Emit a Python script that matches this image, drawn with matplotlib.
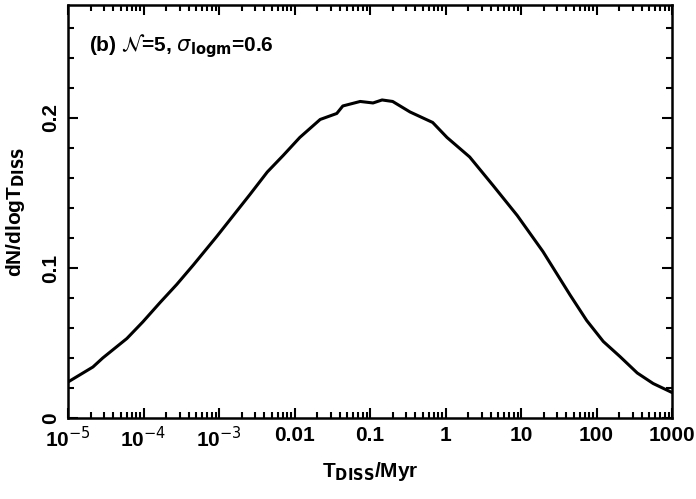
import matplotlib
matplotlib.use("Agg")
import matplotlib.pyplot as plt
import numpy as np

# Data (log10 of T_DISS/Myr, dN/dlogT_DISS)
log_t_diss = [-5.00, -4.67, -4.54, -4.22, -4.01, -3.78, -3.56, -3.34, -3.03, -2.81,
              -2.59, -2.36, -2.15, -1.93, -1.66, -1.44, -1.36, -1.13, -0.96, -0.84,
              -0.70, -0.47, -0.17, 0.02, 0.32, 0.63, 0.95, 1.29, 1.65, 1.87,
              2.09, 2.31, 2.54, 2.75, 3.00]
dn_dlogt = [0.024, 0.034, 0.040, 0.053, 0.064, 0.077, 0.089, 0.102, 0.121, 0.135,
            0.149, 0.164, 0.175, 0.187, 0.199, 0.203, 0.208, 0.211, 0.210, 0.212,
            0.211, 0.204, 0.197, 0.187, 0.174, 0.155, 0.135, 0.111, 0.082, 0.065,
            0.051, 0.041, 0.030, 0.023, 0.017]

x_tick_values = [1e-5, 1e-4, 1e-3, 0.01, 0.1, 1, 10, 100, 1000]
x_tick_labels = [r"10$^{-5}$", r"10$^{-4}$", r"10$^{-3}$",
                 "0.01", "0.1", "1", "10", "100", "1000"]
y_tick_values = [0, 0.1, 0.2]
y_tick_labels = ["0", "0.1", "0.2"]

plt.rcParams['font.family'] = ['Liberation Sans', 'DejaVu Sans']
plt.rcParams['mathtext.fontset'] = 'dejavusans'


def safe(s, alt, **kw):
    """Return s if it renders, else alt."""
    try:
        f = plt.figure()
        f.text(0.5, 0.5, s, **kw)
        f.canvas.draw()
        plt.close(f)
        return s
    except Exception:
        plt.close('all')
        return alt


FW = 'bold'
xt = [safe(l, l.replace("$^{", "^").replace("}$", ""), fontweight=FW) for l in x_tick_labels]
xlab = safe(r"T$_{\mathbf{DISS}}$/Myr", "T_DISS/Myr", fontweight=FW)
ylab = safe(r"dN/dlogT$_{\mathbf{DISS}}$", "dN/dlogT_DISS", fontweight=FW)
ann = safe(r"(b) $\mathcal{N}$=5, $\sigma_{\mathbf{logm}}$=0.6",
           safe(r"(b) $N$=5, $\sigma_{\mathbf{logm}}$=0.6", "(b) N=5, σ_logm=0.6", fontweight=FW),
           fontweight=FW)

fig = plt.figure(figsize=(6.96, 4.99), dpi=100)
ax = fig.add_axes([68/696, 1-418/499, (672-68)/696, (418-5)/499])

t = 10 ** np.array(log_t_diss)
ax.plot(t, dn_dlogt, color='black', lw=2.2, solid_joinstyle='round')

ax.set_xscale('log')
ax.set_xlim(1e-5, 1000)
ax.set_ylim(0, 0.2753)

ax.set_xticks(x_tick_values)
ax.set_xticklabels(xt, fontsize=15, fontweight=FW)
ax.xaxis.set_minor_locator(matplotlib.ticker.LogLocator(base=10, subs=np.arange(2, 10), numticks=20))
ax.xaxis.set_minor_formatter(matplotlib.ticker.NullFormatter())
ax.set_yticks(y_tick_values)
ax.set_yticklabels(y_tick_labels, fontsize=15, rotation=90, va='center', fontweight=FW)
ax.yaxis.set_minor_locator(matplotlib.ticker.MultipleLocator(0.02))

ax.tick_params(which='both', direction='in', top=True, right=True, width=1.5)
ax.tick_params(which='major', length=7)
ax.tick_params(which='minor', length=4)
ax.tick_params(axis='x', which='major', pad=6)
ax.tick_params(axis='y', which='major', pad=6)
for s in ax.spines.values():
    s.set_linewidth(1.8)

ax.set_xlabel(xlab, fontsize=15, labelpad=6, fontweight=FW)
ax.set_ylabel(ylab, fontsize=15, labelpad=10, fontweight=FW)

ax.text(0.035, 0.90, ann, transform=ax.transAxes,
        fontsize=15, ha='left', va='center', fontweight=FW)

fig.savefig("out.png", dpi=100)
